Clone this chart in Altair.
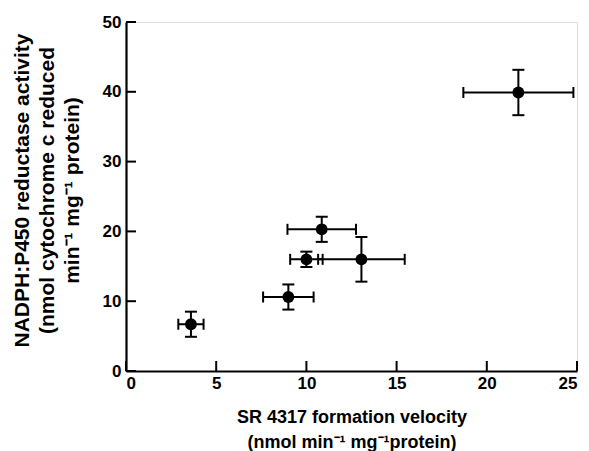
import altair as alt
import pandas as pd

# Data
x_vals = [3.6, 9.0, 10.0, 10.85, 13.05, 21.75]
y_vals = [6.7, 10.6, 16.0, 20.3, 16.0, 39.9]
x_err = [0.7, 1.4, 0.9, 1.9, 2.4, 3.05]
y_err = [1.8, 1.8, 1.1, 1.8, 3.2, 3.25]
x_ticks = [0, 5, 10, 15, 20, 25]
y_ticks = [0, 10, 20, 30, 40, 50]

x_title = ["SR 4317 formation velocity", "(nmol min\u207b\u00b9 mg\u207b\u00b9protein)"]
y_title = ["NADPH:P450 reductase activity", "(nmol cytochrome c reduced", "min\u207b\u00b9 mg\u207b\u00b9 protein)"]

W, H = 451, 349
FONT = "Liberation Sans"

df = pd.DataFrame({"x": x_vals, "y": y_vals, "xe": x_err, "ye": y_err})
df["xlo"] = df["x"] - df["xe"]
df["xhi"] = df["x"] + df["xe"]
df["ylo"] = df["y"] - df["ye"]
df["yhi"] = df["y"] + df["ye"]

xs = alt.Scale(domain=[0, 25], nice=False, zero=False)
ys = alt.Scale(domain=[0, 50], nice=False, zero=False)

x_axis = alt.Axis(values=x_ticks, ticks=False, grid=False, domainColor="black", domainWidth=2.2,
                  labelFont=FONT, labelFontWeight="bold", labelFontSize=17, labelColor="black",
                  labelPadding=4, title=x_title, titleFont=FONT, titleFontWeight="bold",
                  titleFontSize=18, titleColor="black", titlePadding=17, titleLineHeight=25)
y_axis = alt.Axis(values=y_ticks, ticks=False, grid=False, domainColor="black", domainWidth=2.2,
                  labelFont=FONT, labelFontWeight="bold", labelFontSize=17, labelColor="black",
                  labelPadding=5, title=y_title, titleFont=FONT, titleFontWeight="bold",
                  titleFontSize=21, titleColor="black", titlePadding=20, titleLineHeight=25,
                  titleY=168)

base = alt.Chart(df)

points = base.mark_point(filled=True, shape="circle", size=140, color="black", opacity=1).encode(
    x=alt.X("x:Q", scale=xs, axis=x_axis),
    y=alt.Y("y:Q", scale=ys, axis=y_axis),
)
hbar = base.mark_rule(color="black", strokeWidth=2).encode(
    x=alt.X("xlo:Q", scale=xs), x2="xhi:Q", y=alt.Y("y:Q", scale=ys))
vbar = base.mark_rule(color="black", strokeWidth=2).encode(
    y=alt.Y("ylo:Q", scale=ys), y2="yhi:Q", x=alt.X("x:Q", scale=xs))
cap_xlo = base.mark_tick(color="black", orient="vertical", size=11, thickness=2, opacity=1).encode(
    x=alt.X("xlo:Q", scale=xs), y=alt.Y("y:Q", scale=ys))
cap_xhi = base.mark_tick(color="black", orient="vertical", size=11, thickness=2, opacity=1).encode(
    x=alt.X("xhi:Q", scale=xs), y=alt.Y("y:Q", scale=ys))
cap_ylo = base.mark_tick(color="black", orient="horizontal", size=12, thickness=2, opacity=1).encode(
    y=alt.Y("ylo:Q", scale=ys), x=alt.X("x:Q", scale=xs))
cap_yhi = base.mark_tick(color="black", orient="horizontal", size=12, thickness=2, opacity=1).encode(
    y=alt.Y("yhi:Q", scale=ys), x=alt.X("x:Q", scale=xs))

xt = alt.Chart(pd.DataFrame({"t": x_ticks})).mark_rule(color="black", strokeWidth=2).encode(
    x=alt.X("t:Q", scale=xs), y=alt.value(H), y2=alt.value(H - 10))
yt = alt.Chart(pd.DataFrame({"t": y_ticks})).mark_rule(color="black", strokeWidth=2).encode(
    y=alt.Y("t:Q", scale=ys), x=alt.value(0), x2=alt.value(10))

chart = alt.layer(hbar, vbar, cap_xlo, cap_xhi, cap_ylo, cap_yhi, xt, yt, points).properties(
    width=W, height=H,
    autosize=alt.AutoSizeParams(type="none"),
    padding={"left": 118, "top": 14, "right": 4, "bottom": 80},
).configure_view(stroke=None).configure(background="white")

chart.save("out.html", embed_options={"renderer": "svg", "actions": False})
